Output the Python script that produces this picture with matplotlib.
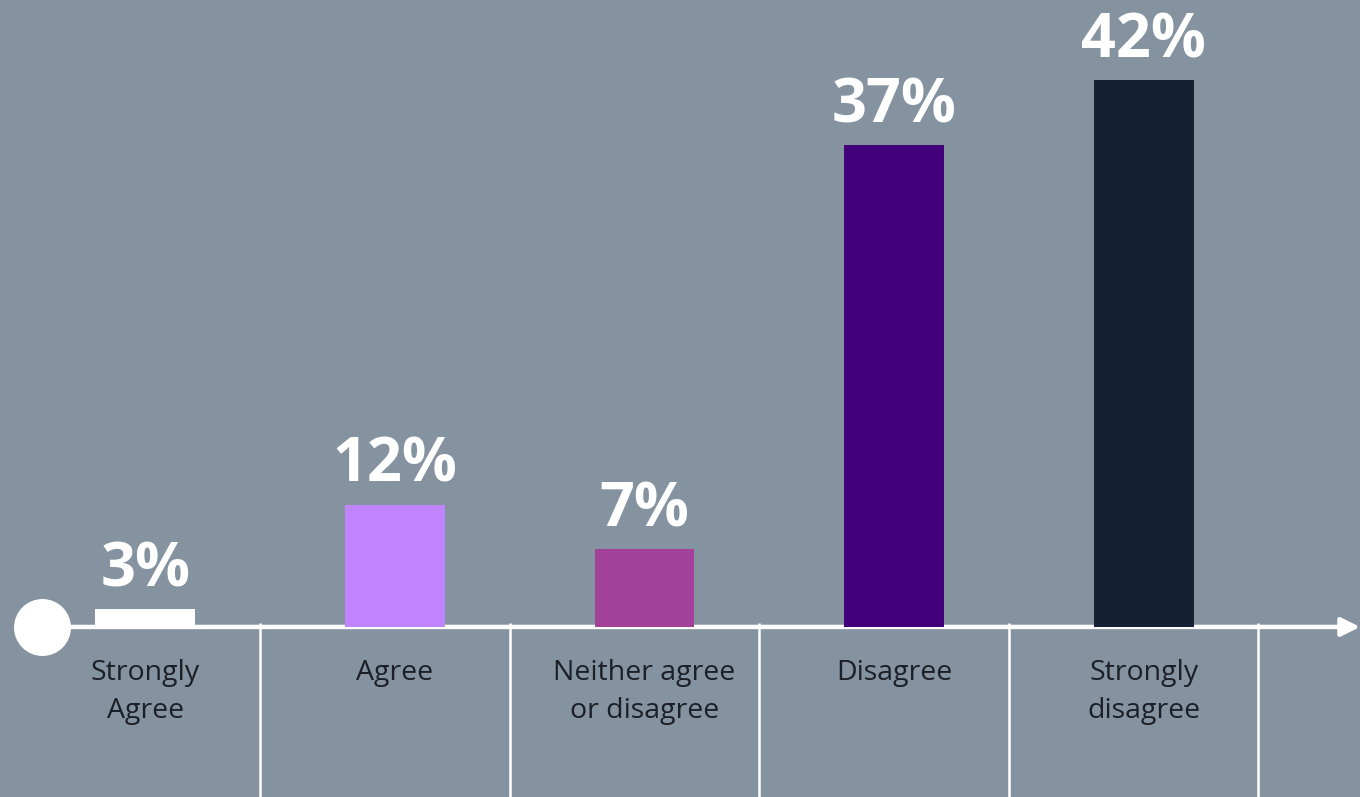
import matplotlib.pyplot as plt

# survey answers, left to right
categories = ["Strongly\nAgree", "Agree", "Neither agree\nor disagree", "Disagree", "Strongly\ndisagree"]
percent_labels = [3, 12, 7, 37, 42]
# bar heights as drawn in the original (small bars are not to scale there)
drawn_heights = [1.35, 9.4, 6.0, 37, 42]
bar_colors = ["#ffffff", "#c084fc", "#a3409a", "#41007a", "#162033"]

bg = "#8593a0"
txt_dark = "#1b1f27"

fig = plt.figure(figsize=(13.6, 7.97), dpi=100)
fig.patch.set_facecolor(bg)
ax = fig.add_axes([0, 0, 1, 1])
ax.set_facecolor(bg)
ax.set_xlim(-0.582, 4.867)
ax.set_ylim(-13.06, 48.15)
ax.axis("off")

x = list(range(len(categories)))
ax.bar(x, drawn_heights, width=0.4, color=bar_colors, zorder=3)

for i, (h, p) in enumerate(zip(drawn_heights, percent_labels)):
    ax.text(i, h + 1.75, f"{p}%", ha="center", va="baseline", color="white",
            fontsize=44, fontweight="bold", family="Open Sans", zorder=4)

for i, lab in enumerate(categories):
    ax.text(i, -2.45, lab, ha="center", va="top", color=txt_dark,
            fontsize=20.5, family="Open Sans", linespacing=1.5)

# separators under the axis
ax.vlines([i + 0.46 for i in x], -13.06, 0.3, color="white", lw=1.8, zorder=2)

# the axis line with arrow and start dot
ax.annotate("", xy=(4.867, 0), xytext=(-0.414, 0),
            arrowprops=dict(arrowstyle="-|>", color="white", lw=3.2, mutation_scale=28,
                            shrinkA=0, shrinkB=0), zorder=2)
ax.plot([-0.414], [0], marker="o", ms=40, color="white", zorder=5)

plt.savefig("out.png", dpi=100, facecolor=bg)
